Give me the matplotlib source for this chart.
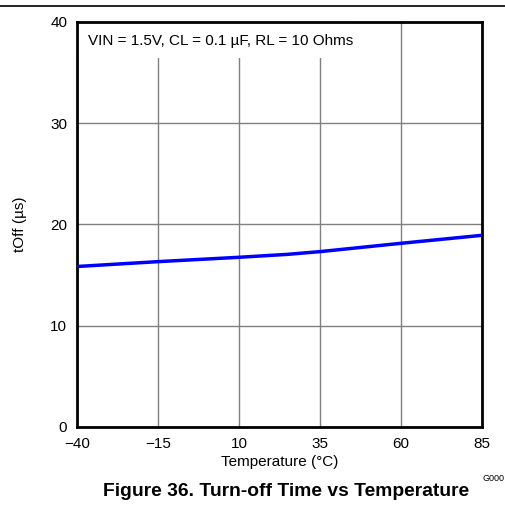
import matplotlib
matplotlib.use('Agg')
import matplotlib.pyplot as plt
from matplotlib.patches import Rectangle
from matplotlib.lines import Line2D

plt.rcParams['font.family'] = ['Liberation Sans', 'DejaVu Sans']

# data
temp_c = [-40, -15, 10, 25, 35, 60, 85]
toff_us = [15.85, 16.33, 16.76, 17.05, 17.32, 18.14, 18.93]

x_ticks = [-40, -15, 10, 35, 60, 85]
x_tick_labels = ['\u221240', '\u221215', '10', '35', '60', '85']
y_ticks = [0, 10, 20, 30, 40]

fig = plt.figure(figsize=(5.06, 5.16), dpi=100)
ax = fig.add_axes([0.152, 0.1725, 0.8004, 0.7849])

ax.set_xlim(-40, 85)
ax.set_ylim(0, 40)
ax.set_xticks(x_ticks)
ax.set_xticklabels(x_tick_labels)
ax.set_yticks(y_ticks)
ax.tick_params(length=0, labelsize=11)
ax.tick_params(axis='x', pad=7)
ax.tick_params(axis='y', pad=7)
ax.grid(True, color='#808080', linewidth=1.0)
ax.set_axisbelow(True)
for sp in ax.spines.values():
    sp.set_linewidth(2.0)
    sp.set_color('black')

# white box behind the condition text hides the grid there
ax.add_patch(Rectangle((-40, 36.4), 84, 3.6, facecolor='white',
                       edgecolor='none', zorder=1.5))
ax.text(-36.6, 38.1, 'VIN = 1.5V, CL = 0.1 \u00b5F, RL = 10 Ohms',
        fontsize=11, va='center', ha='left', zorder=3)

ax.plot(temp_c, toff_us, color='#0000ff', linewidth=2.5, zorder=4)

ax.set_xlabel('Temperature (\u00b0C)', fontsize=11, labelpad=3)
ax.set_ylabel('tOff (\u00b5s)', fontsize=11, labelpad=17)

fig.text(0.997, 0.072, 'G000', fontsize=6.5, ha='right', va='center')
fig.text(0.566, 0.048, 'Figure 36. Turn-off Time vs Temperature',
         fontsize=13.9, fontweight='bold', ha='center', va='center')
fig.add_artist(Line2D([0, 1], [0.988, 0.988], color='black', linewidth=1.2,
                      transform=fig.transFigure))

fig.savefig('out.png', dpi=100)
